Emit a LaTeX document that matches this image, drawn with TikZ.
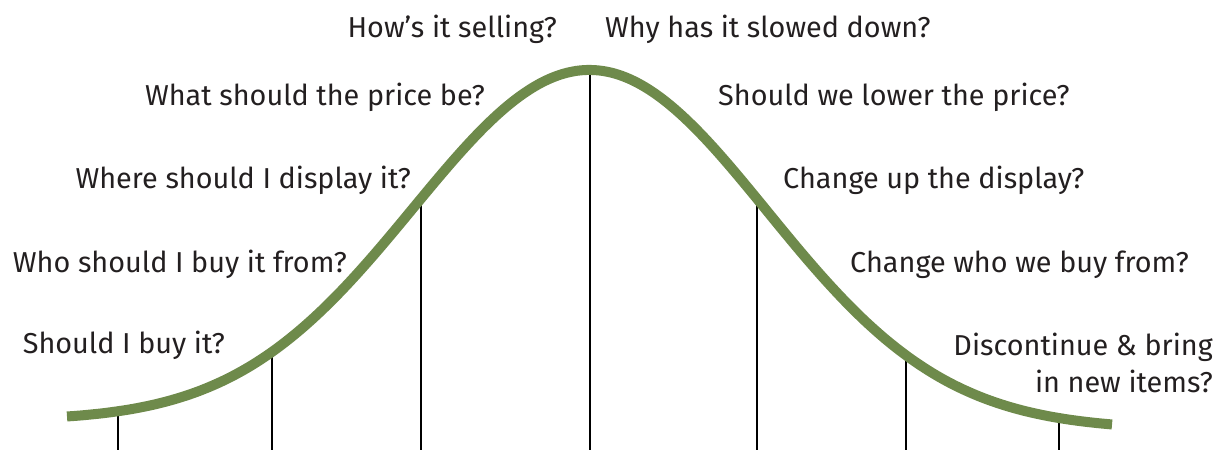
\documentclass[tikz,border=0pt]{standalone}
\usepackage{fontspec}
\setmainfont{Fira Sans}
\definecolor{bellgreen}{HTML}{6E8A4B}
\definecolor{textgray}{HTML}{231F20}
\tikzset{x=1pt,y=-1pt,
  declare function={bell(\x)=425-355*exp(-((\x-590)/177)^2/2)+0.0077*(\x-590);},
  question/.style={font=\fontsize{28.8}{37}\selectfont,text=textgray,inner sep=0pt},
  tick/.style={draw=black,line width=2.2pt},
  curve/.style={draw=bellgreen,line width=10pt,line cap=butt}}

\begin{document}
\begin{tikzpicture}
        \useasboundingbox (0,0) rectangle (1225,450);

        % points on the curve and at the foot of the page
        \foreach \n/\px in {a/118,b/272,c/421,d/590,e/757,f/906,g/1059} {
          \coordinate (top-\n) at (\px,{bell(\px)});
          \coordinate (foot-\n) at (\px,450);
        }

        \draw [tick] (top-a) -- (foot-a);
        \draw [tick] (top-b) -- (foot-b);
        \draw [tick] (top-c) -- (foot-c);
        \draw [tick] (top-d) -- (foot-d);
        \draw [tick] (top-e) -- (foot-e);
        \draw [tick] (top-f) -- (foot-f);
        \draw [tick] (top-g) -- (foot-g);

        \draw [curve] plot [domain=67:1112,samples=120,smooth] (\x,{bell(\x)});

        % left side
        \node [question,anchor=base east] (selling) at (557,37)  {How’s it selling?};
        \node [question,anchor=base east] (price)   at (485,105) {What should the price be?};
        \node [question,anchor=base east] (display) at (411,188) {Where should I display it?};
        \node [question,anchor=base east] (source)  at (347,272) {Who should I buy it from?};
        \node [question,anchor=base east] (buy)     at (225,353) {Should I buy it?};

        % right side
        \node [question,anchor=base west] (slowed)  at (605,37)  {Why has it slowed down?};
        \node [question,anchor=base west] (lower)   at (718,105) {Should we lower the price?};
        \node [question,anchor=base west] (change)  at (783,188) {Change up the display?};
        \node [question,anchor=base west] (switch)  at (850,272) {Change who we buy from?};
        \node [question,anchor=base east,align=right] (discont) at (1213,392)
              {Discontinue \& bring\\in new items?};
\end{tikzpicture}
\end{document}
